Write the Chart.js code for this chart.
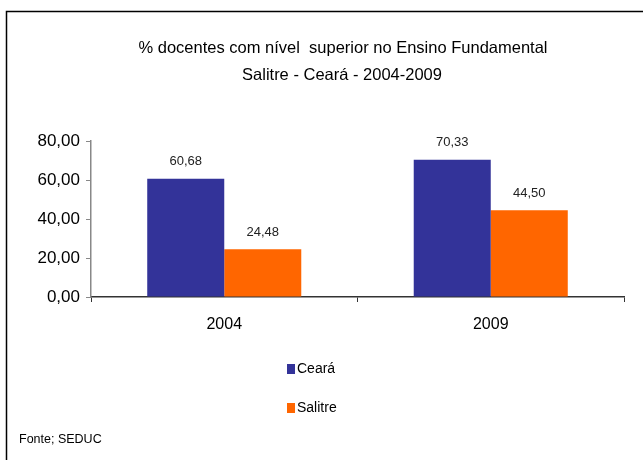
<!DOCTYPE html>
<html lang="pt">
<head>
  <meta charset="UTF-8">
  <title>% docentes com nível superior</title>
  <script src="https://cdn.jsdelivr.net/npm/chart.js"></script>
  <style>
    html, body { margin: 0; padding: 0; background: #fff; }
    #wrap { width: 643px; height: 460px; position: relative; }
  </style>
</head>
<body>
  <div id="wrap"><canvas id="chart" width="643" height="460"></canvas></div>

  <script>
    const categories = ["2004", "2009"];
    const seriesNames = ["Ceará", "Salitre"];
    const cearaValues = [60.68, 70.33];
    const salitreValues = [24.48, 44.50];
    const seriesColors = ["#333399", "#FF6600"];
    const titleLines = ["% docentes com nível  superior no Ensino Fundamental", "Salitre - Ceará - 2004-2009"];
    const sourceNote = "Fonte; SEDUC";

    const FONT = "'Liberation Sans', Arial, sans-serif";
    const fmt = v => v.toFixed(2).replace(".", ",");

    // frame, title, legend and source text
    const decor = {
      id: "decor",
      beforeDraw(chart) {
        const ctx = chart.ctx;
        ctx.save();
        ctx.strokeStyle = "#000";
        ctx.lineWidth = 1.5;
        ctx.beginPath();
        ctx.moveTo(6.5, 470);
        ctx.lineTo(6.5, 11.5);
        ctx.lineTo(660, 11.5);
        ctx.stroke();
        ctx.restore();
      },
      afterDraw(chart) {
        const ctx = chart.ctx;
        ctx.save();
        ctx.fillStyle = "#000";
        ctx.textAlign = "center";
        ctx.textBaseline = "middle";
        ctx.font = "16.5px " + FONT;
        ctx.fillText(titleLines[0], 343, 48);
        ctx.fillText(titleLines[1], 342, 75);

        // vertical legend
        ctx.textAlign = "left";
        ctx.font = "14px " + FONT;
        chart.data.datasets.forEach((ds, i) => {
          const y = 369 + i * 39;
          ctx.fillStyle = ds.backgroundColor;
          ctx.fillRect(287, y - 5, 8, 10);
          ctx.fillStyle = "#000";
          ctx.fillText(ds.label, 297, y);
        });

        ctx.font = "12.5px " + FONT;
        ctx.fillText(sourceNote, 19, 440);
        ctx.restore();
      }
    };

    const barLabels = {
      id: "barLabels",
      afterDatasetsDraw(chart) {
        const ctx = chart.ctx;
        ctx.save();
        ctx.fillStyle = "#222";
        ctx.font = "13px " + FONT;
        ctx.textAlign = "center";
        ctx.textBaseline = "middle";
        chart.data.datasets.forEach((ds, i) => {
          chart.getDatasetMeta(i).data.forEach((bar, j) => {
            ctx.fillText(fmt(ds.data[j]), bar.x, bar.y - 17);
          });
        });
        ctx.restore();
      }
    };

    new Chart(document.getElementById("chart"), {
      type: "bar",
      data: {
        labels: categories,
        datasets: [
          { label: seriesNames[0], data: cearaValues, backgroundColor: seriesColors[0] },
          { label: seriesNames[1], data: salitreValues, backgroundColor: seriesColors[1] }
        ]
      },
      options: {
        responsive: false,
        animation: false,
        events: [],
        layout: { padding: { top: 141, right: 19, left: 0, bottom: 0 } },
        datasets: { bar: { barPercentage: 1, categoryPercentage: 0.578 } },
        scales: {
          x: {
            afterFit(s) { s.height = 163; },
            border: { display: true, color: "#333", width: 1.5 },
            grid: { offset: true, drawOnChartArea: false, drawTicks: true, tickLength: 5, color: "#333" },
            ticks: { color: "#000", font: { size: 16, family: FONT }, padding: 13 }
          },
          y: {
            min: 0,
            max: 80,
            afterFit(s) { s.width = 91; },
            border: { display: true, color: "#888", width: 1.5 },
            grid: { drawOnChartArea: false, drawTicks: true, tickLength: 5, color: "#888" },
            ticks: {
              stepSize: 20,
              color: "#000",
              padding: 6,
              font: { size: 17, family: FONT },
              callback: v => fmt(v)
            }
          }
        },
        plugins: {
          legend: { display: false },
          title: { display: false },
          tooltip: { enabled: false }
        }
      },
      plugins: [decor, barLabels]
    });
  </script>
</body>
</html>
